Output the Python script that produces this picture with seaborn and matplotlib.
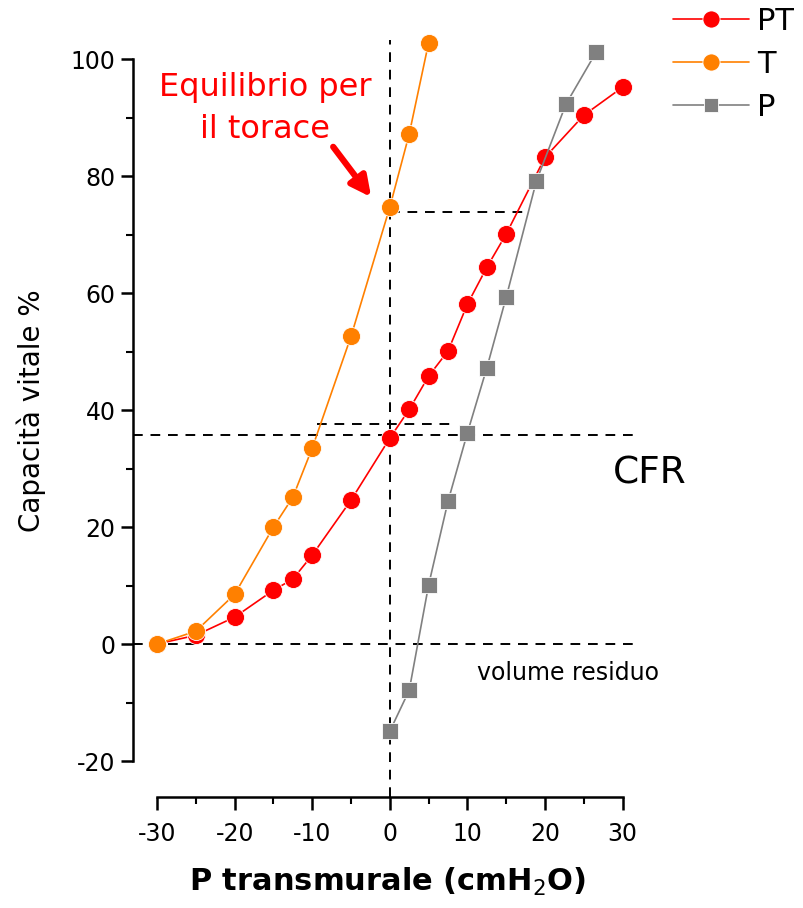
import matplotlib
matplotlib.use("Agg")
import matplotlib.pyplot as plt
import seaborn as sns
import pandas as pd
from matplotlib.ticker import MultipleLocator

# ---- data ----
pt_x = [-30, -25, -20, -15, -12.5, -10, -5, 0, 2.5, 5, 7.5, 10, 12.5, 15, 20, 25, 30]
pt_y = [0, 1.5, 4.6, 9.2, 11.1, 15.2, 24.6, 35.2, 40.1, 45.8, 50.1, 58.1, 64.4, 70.1, 83.2, 90.4, 95.2]
t_x = [-30, -25, -20, -15, -12.5, -10, -5, 0, 2.5, 5]
t_y = [0, 2.2, 8.5, 20.0, 25.1, 33.5, 52.6, 74.7, 87.2, 102.8]
p_x = [0, 2.5, 5, 7.5, 10, 12.5, 15, 18.9, 22.7, 26.6]
p_y = [-14.9, -7.9, 10.1, 24.4, 36.1, 47.2, 59.3, 79.2, 92.3, 101.2]
series_names = ["PT", "T", "P"]
series_colors = ["#ff0000", "#ff8000", "#808080"]
x_ticks = [-30, -20, -10, 0, 10, 20, 30]
y_ticks = [-20, 0, 20, 40, 60, 80, 100]

sns.set_theme(style="white")
plt.rcParams['font.family'] = ['DejaVu Sans']
plt.rcParams['axes.unicode_minus'] = False
plt.rcParams['text.color'] = 'black'
plt.rcParams['axes.labelcolor'] = 'black'

W, H = 804, 908
fig = plt.figure(figsize=(W / 100, H / 100), dpi=100)
# axes pixel box: left 133, right 642, top 24, bottom 797
ax = fig.add_axes([133 / W, 1 - 797 / H, (642 - 133) / W, (797 - 24) / H])

df_pt = pd.DataFrame({"x": pt_x, "y": pt_y})
df_t = pd.DataFrame({"x": t_x, "y": t_y})
df_p = pd.DataFrame({"x": p_x, "y": p_y})

common = dict(sort=False, estimator=None, lw=1.2, markeredgecolor="white", markeredgewidth=0.6, ax=ax)
sns.lineplot(data=df_pt, x="x", y="y", color=series_colors[0], marker="o", markersize=13,
             label=series_names[0], zorder=3, **common)
sns.lineplot(data=df_t, x="x", y="y", color=series_colors[1], marker="o", markersize=13,
             label=series_names[1], zorder=4, **common)
sns.lineplot(data=df_p, x="x", y="y", color=series_colors[2], marker="s", markersize=11,
             label=series_names[2], zorder=5, **common)

ax.set_xlim(-33.1, 32.5)
ax.set_ylim(-26.15, 106)

# dashed guide lines
dash = dict(color="black", lw=1.4, linestyle=(0, (5, 4)), zorder=2)
ax.plot([0, 0], [-26.15, 103.2], clip_on=False, **dash)
ax.plot([0, 17.5], [73.9, 73.9], **dash)
ax.plot([-33.1, 32.2], [35.8, 35.8], **dash)
ax.plot([-9.4, 7.7], [37.6, 37.6], **dash)
ax.plot([-33.1, 31.8], [0, 0], **dash)

# spines
for s in ["top", "right"]:
    ax.spines[s].set_visible(False)
for s in ["left", "bottom"]:
    ax.spines[s].set_color("black")
    ax.spines[s].set_linewidth(1.8)
ax.spines["left"].set_bounds(-20, 100)
ax.spines["bottom"].set_bounds(-30, 30)

ax.set_xticks(x_ticks)
ax.set_yticks(y_ticks)
ax.xaxis.set_minor_locator(MultipleLocator(5))
ax.yaxis.set_minor_locator(MultipleLocator(10))
ax.tick_params(axis="both", which="major", direction="out", length=9, width=1.8,
               color="black", labelsize=17, labelcolor="black", bottom=True, left=True)
ax.tick_params(axis="x", which="major", pad=9)
ax.tick_params(axis="both", which="minor", direction="out", length=5, width=1.5,
               color="black", bottom=True, left=True)
ax.grid(False)

ax.set_xlabel("P transmurale (cmH$_2$O)", fontsize=22, fontweight="bold", labelpad=14)
ax.set_ylabel("Capacità vitale %", fontsize=20, labelpad=18)

# annotations
ax.text(-16.1, 91.5, "Equilibrio per\nil torace", color="#ff0000", fontsize=23,
        ha="center", va="center", linespacing=1.45)
ax.annotate("", xy=(-2.4, 76.4), xytext=(-7.3, 85.0),
            arrowprops=dict(arrowstyle="-|>,head_width=0.5,head_length=1.0",
                            color="#ff0000", lw=4.5, shrinkA=0, shrinkB=0))
ax.text(33.5, 29.2, "CFR", fontsize=27, ha="center", va="center", clip_on=False)
ax.text(22.9, -5, "volume residuo", fontsize=17, ha="center", va="center")

# legend
ax.get_legend().remove()
handles, labels = ax.get_legend_handles_labels()
fig.legend(handles, labels, loc="upper left", bbox_to_anchor=(670 / W, 1 - 4 / H),
           frameon=False, fontsize=22, handlelength=2.5, handletextpad=0.25,
           labelspacing=0.45, borderaxespad=0, borderpad=0.1, markerscale=0.95)

fig.savefig("out.png", dpi=100)
